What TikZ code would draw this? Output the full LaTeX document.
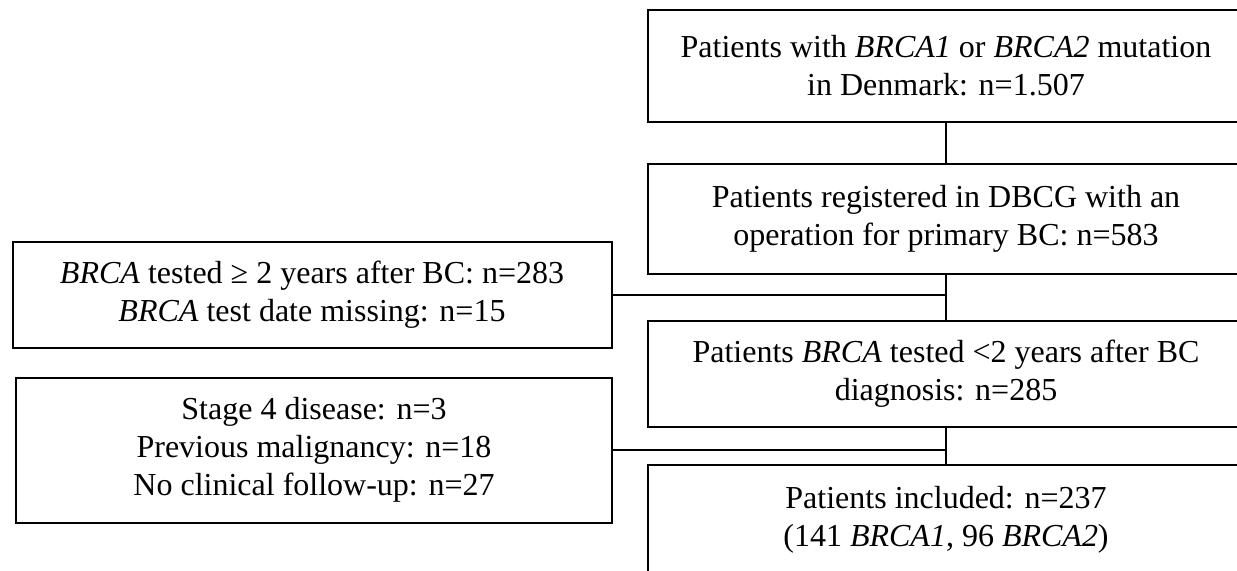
\documentclass[tikz,border=0pt]{standalone}
\usepackage{fontspec}
\setmainfont{Liberation Serif}

\tikzset{box/.style={draw, rectangle, align=center, line width=1pt,
           minimum width=298pt, inner sep=0pt,
           font=\fontsize{16}{19}\selectfont},
         link/.style={draw, line width=1pt}}

\begin{document}
\begin{tikzpicture}[x=0.5pt, y=-0.5pt]
  \useasboundingbox (0,0) rectangle (1237,570);
  \clip (0,0) rectangle (1237,570);

  % main flow
  \node[box, minimum height=56pt] (Mutation) at (946,66)
    {Patients with \textit{BRCA1} or \textit{BRCA2} mutation\\ in Denmark: n=1.507};
  \node[box, minimum height=55pt] (Registered) at (946,219)
    {Patients registered in DBCG with an\\ operation for primary BC: n=583};
  \node[box, minimum height=53pt] (Tested) at (946,374)
    {Patients \textit{BRCA} tested <2 years after BC\\ diagnosis: n=285};
  \node[box, minimum height=55pt] (Included) at (946,520)
    {Patients included: n=237\\ (141 \textit{BRCA1}, 96 \textit{BRCA2})};

  % exclusions
  \node[box, minimum width=299.5pt, minimum height=53pt] (Late) at (312,295)
    {\textit{BRCA} tested ≥ 2 years after BC: n=283\\ \textit{BRCA} test date missing: n=15};
  \node[box, minimum width=298pt, minimum height=72.5pt] (Excluded) at (314,450)
    {Stage 4 disease: n=3\\ Previous malignancy: n=18\\ No clinical follow-up: n=27};

  \draw[link] (Mutation) -- (Registered);
  \draw[link] (Registered) -- (Tested);
  \draw[link] (Tested) -- (Included);
  \draw[link] (Late.east) -- (Late.east -| Registered.south);
  \draw[link] (Excluded.east) -- (Excluded.east -| Tested.south);
\end{tikzpicture}
\end{document}
